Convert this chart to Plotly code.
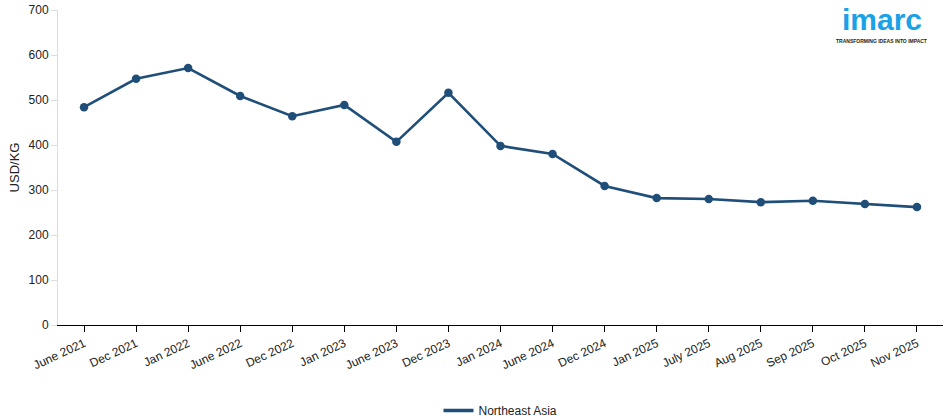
import plotly.graph_objects as go

categories = ["June 2021", "Dec 2021", "Jan 2022", "June 2022", "Dec 2022", "Jan 2023",
              "June 2023", "Dec 2023", "Jan 2024", "June 2024", "Dec 2024", "Jan 2025",
              "July 2025", "Aug 2025", "Sep 2025", "Oct 2025", "Nov 2025"]
northeast_asia = [484, 547, 571, 509, 464, 489, 407, 516, 398, 380, 309, 282, 280, 273, 276, 269, 262]
y_ticks = [0, 100, 200, 300, 400, 500, 600, 700]

LINE_COLOR = "#1f4e79"

fig = go.Figure()
fig.add_trace(go.Scatter(
    x=list(range(len(categories))), y=northeast_asia, mode="lines+markers",
    name="Northeast Asia", showlegend=False,
    line=dict(color=LINE_COLOR, width=2.6),
    marker=dict(color=LINE_COLOR, size=8.5),
))
# legend entry shows only the line
fig.add_trace(go.Scatter(
    x=[None], y=[None], mode="lines", name="Northeast Asia",
    line=dict(color=LINE_COLOR, width=3.5),
))

fig.update_layout(
    width=950, height=420,
    margin=dict(l=58, r=7, t=10, b=95, autoexpand=False),
    paper_bgcolor="white", plot_bgcolor="white",
    font=dict(family="Liberation Sans, Arial, sans-serif", size=12, color="#222"),
    showlegend=True,
    legend=dict(orientation="h", x=0.5, xanchor="center", y=-0.225, yanchor="top",
                font=dict(size=12, color="#222")),
    xaxis=dict(
        tickmode="array", tickvals=list(range(len(categories))), ticktext=categories,
        range=[-0.5, len(categories) - 0.5], tickangle=-25,
        showline=True, linecolor="#000", linewidth=1,
        ticks="outside", ticklen=6, tickcolor="#000",
        showgrid=False, zeroline=False, automargin=False,
        tickfont=dict(size=12, color="#222"),
    ),
    yaxis=dict(
        range=[0, 700], tickvals=y_ticks,
        showline=True, linecolor="#ddd", linewidth=1,
        ticks="outside", ticklen=6, tickcolor="#ddd",
        showgrid=False, zeroline=False, automargin=False,
        title=dict(text="USD/KG", font=dict(size=13, color="#222"), standoff=6),
        tickfont=dict(size=12, color="#222"),
    ),
)

fig.add_annotation(xref="paper", yref="paper", x=0.931, y=1.03, xanchor="center", yanchor="top",
                   text="<b>imarc</b>", showarrow=False,
                   font=dict(size=30, color="#1ba1e6", family="Liberation Sans, Arial, sans-serif"))
fig.add_annotation(xref="paper", yref="paper", x=0.931, y=0.917, xanchor="center", yanchor="top",
                   text="<b>TRANSFORMING IDEAS INTO IMPACT</b>", showarrow=False,
                   font=dict(size=5, color="#222", family="Liberation Sans, Arial, sans-serif"))

fig.write_html("out.html", config={"displayModeBar": False},
               post_script="document.body.style.margin='0';")
